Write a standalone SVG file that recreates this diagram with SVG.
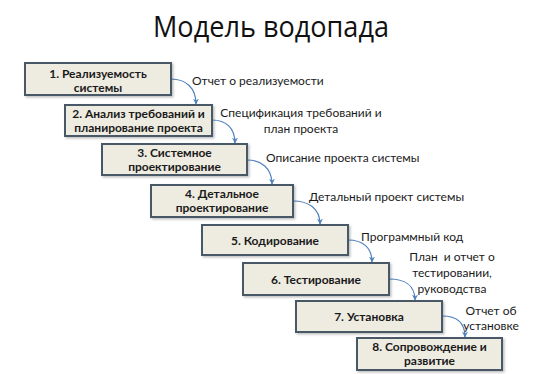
<svg xmlns="http://www.w3.org/2000/svg" width="546" height="374" viewBox="0 0 546 374">
<defs>
<marker id="ah" viewBox="0 0 10 10" refX="9" refY="5" markerWidth="6" markerHeight="6" orient="auto" markerUnits="userSpaceOnUse">
<path d="M0,0 L10,5 L0,10 L3,5 Z" fill="#4F81BD"/>
</marker>
<filter id="sh" x="-10%" y="-10%" width="130%" height="140%">
<feDropShadow dx="1.5" dy="1.5" stdDeviation="1" flood-color="#000" flood-opacity="0.25"/>
</filter>
</defs>
<style>
.box{fill:#EEECE1;stroke:#4A5866;stroke-width:2;filter:url(#sh)}
.bt{font-family:Lato,"Open Sans",sans-serif;font-weight:bold;font-size:12px;fill:#1a1a1a;text-anchor:middle}
.lb{font-family:Lato,"Open Sans",sans-serif;font-size:12px;fill:#1a1a1a}
.lc{font-family:Lato,"Open Sans",sans-serif;font-size:12px;fill:#1a1a1a;text-anchor:middle}
.cn{fill:none;stroke:#4F81BD;stroke-width:1.2;marker-end:url(#ah)}
</style>
<rect width="546" height="374" fill="#ffffff"/>
<text x="271" y="37" font-family="'Open Sans',sans-serif" font-size="30" fill="#111" text-anchor="middle" textLength="236" lengthAdjust="spacingAndGlyphs">Модель водопада</text>

<g id="connectors">
<path class="cn" d="M171,79 C186,79 196,88 196,104"/>
<path class="cn" d="M212,120 C226,120 235,128 235,143"/>
<path class="cn" d="M247,160 C261,160 272,168 272,184"/>
<path class="cn" d="M293,201 C308,201 320,208 320,224"/>
<path class="cn" d="M348,240 C362,240 372,247 372,262"/>
<path class="cn" d="M389,279 C404,279 415,285 415,300"/>
<path class="cn" d="M442,316 C456,316 465,322 465,337"/>
</g>

<g id="node1">
<rect class="box" x="25" y="63" width="146" height="32"/>
<text class="bt" x="98" y="78">1. Реализуемость</text>
<text class="bt" x="98" y="92">системы</text>
</g>
<g id="node2">
<rect class="box" x="65" y="105" width="147" height="31"/>
<text class="bt" x="138.5" y="118">2. Анализ требований и</text>
<text class="bt" x="138.5" y="132">планирование проекта</text>
</g>
<g id="node3">
<rect class="box" x="102" y="144" width="145" height="31"/>
<text class="bt" x="174.5" y="157">3. Системное</text>
<text class="bt" x="174.5" y="171">проектирование</text>
</g>
<g id="node4">
<rect class="box" x="151" y="185" width="142" height="32"/>
<text class="bt" x="222" y="198">4. Детальное</text>
<text class="bt" x="222" y="212">проектирование</text>
</g>
<g id="node5">
<rect class="box" x="202" y="225" width="146" height="30"/>
<text class="bt" x="275" y="245">5. Кодирование</text>
</g>
<g id="node6">
<rect class="box" x="243" y="263" width="146" height="32"/>
<text class="bt" x="316" y="284">6. Тестирование</text>
</g>
<g id="node7">
<rect class="box" x="296" y="301" width="146" height="31"/>
<text class="bt" x="369" y="321">7. Установка</text>
</g>
<g id="node8">
<rect class="box" x="357" y="338" width="145" height="32"/>
<text class="bt" x="429.5" y="351">8. Сопровождение и</text>
<text class="bt" x="429.5" y="365">развитие</text>
</g>

<g id="labels">
<text class="lb" x="192" y="85">Отчет о реализуемости</text>
<text class="lc" x="301" y="117">Спецификация требований и</text>
<text class="lc" x="301" y="133">план проекта</text>
<text class="lb" x="266" y="162">Описание проекта системы</text>
<text class="lb" x="309" y="201">Детальный проект системы</text>
<text class="lb" x="361" y="241">Программный код</text>
<text class="lc" x="452" y="261" xml:space="preserve">План  и отчет о</text>
<text class="lc" x="452" y="277">тестировании,</text>
<text class="lc" x="452" y="293">руководства</text>
<text class="lc" x="491" y="315">Отчет об</text>
<text class="lc" x="491" y="330">установке</text>
</g>
</svg>
